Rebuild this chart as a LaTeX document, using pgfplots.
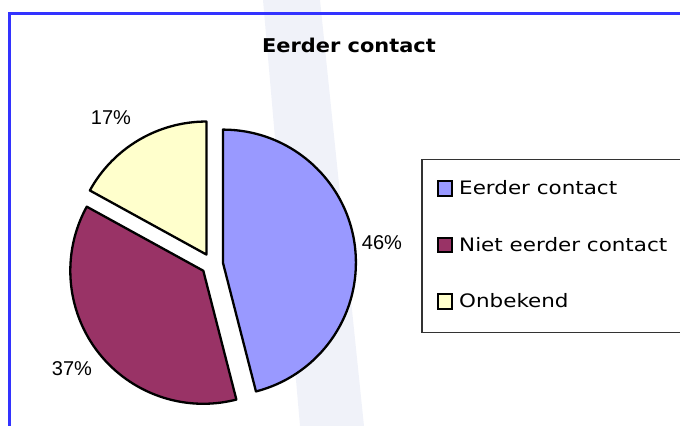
\documentclass[border=0pt]{standalone}
\usepackage{fontspec}
\setmainfont{Liberation Sans}
\newfontfamily\comic[FakeStretch=1.16]{DejaVu Sans}
\newfontfamily\comicbf[FakeStretch=1.1]{DejaVu Sans Bold}
\usepackage{pgfplots}
\usepackage{pgfplotstable}
\pgfplotsset{compat=1.18}
\definecolor{cblue}{HTML}{9999FF}
\definecolor{cmaroon}{HTML}{993366}
\definecolor{cyellow}{HTML}{FFFFCC}
\definecolor{frameblue}{HTML}{3333FF}
\definecolor{band}{HTML}{F0F2F9}

\pgfplotstableread{
name value
Eerder 46
Niet 37
Onbekend 17
}\piedata
\pgfplotstablegetelem{0}{value}\of\piedata \let\vA\pgfplotsretval
\pgfplotstablegetelem{1}{value}\of\piedata \let\vB\pgfplotsretval
\pgfplotstablegetelem{2}{value}\of\piedata \let\vC\pgfplotsretval
\pgfmathsetmacro\aA{90}
\pgfmathsetmacro\aB{\aA-3.6*\vA}
\pgfmathsetmacro\aC{\aB-3.6*\vB}
\pgfmathsetmacro\aD{\aC-3.6*\vC}
\pgfmathsetmacro\bA{(\aA+\aB)/2}
\pgfmathsetmacro\bB{(\aB+\aC)/2}
\pgfmathsetmacro\bC{(\aC+\aD)/2}

\begin{document}
\begin{tikzpicture}
\begin{axis}[width=680bp, height=426bp, scale only axis,
  xmin=0, xmax=680, ymin=0, ymax=426, y dir=reverse,
  axis lines=none, clip=false]
% faint background band
\fill[band] (axis cs:263,0) -- (axis cs:320,0) -- (axis cs:364,426) -- (axis cs:300,426) -- cycle;
% frame
\draw[frameblue, line width=2.4bp] (axis cs:9.5,432) -- (axis cs:9.5,13.5) -- (axis cs:692,13.5);
% title
\node[font={\comicbf\fontsize{19bp}{22bp}\selectfont}] at (axis cs:349,45) {Eerder contact};
% slices
\def\R{133bp}
\filldraw[fill=cblue, draw=black, line width=2.3bp, line join=round]
  ([shift={(\bA:11bp)}]axis cs:212,264) -- ++(\aA:\R) arc[start angle=\aA, end angle=\aB, radius=\R] -- cycle;
\filldraw[fill=cmaroon, draw=black, line width=2.3bp, line join=round]
  ([shift={(\bB:11bp)}]axis cs:212,264) -- ++(\aB:\R) arc[start angle=\aB, end angle=\aC, radius=\R] -- cycle;
\filldraw[fill=cyellow, draw=black, line width=2.3bp, line join=round]
  ([shift={(\bC:11bp)}]axis cs:212,264) -- ++(\aC:\R) arc[start angle=\aC, end angle=\aD, radius=\R] -- cycle;
% percentage labels
\node[font=\fontsize{20bp}{24bp}\selectfont] at (axis cs:382,243) {\vA\%};
\node[font=\fontsize{20bp}{24bp}\selectfont] at (axis cs:72,369) {\vB\%};
\node[font=\fontsize{20bp}{24bp}\selectfont] at (axis cs:111,118) {\vC\%};
% legend
\draw[draw=black!80, line width=1.3bp] (axis cs:422,159.5) rectangle (axis cs:692,332.5);
\filldraw[fill=cblue, draw=black, line width=2bp] (axis cs:437.5,181) rectangle (axis cs:452,195.5);
\filldraw[fill=cmaroon, draw=black, line width=2bp] (axis cs:437.5,237.5) rectangle (axis cs:452,252);
\filldraw[fill=cyellow, draw=black, line width=2bp] (axis cs:437.5,294) rectangle (axis cs:452,308.5);
\node[anchor=west, inner sep=0pt, font={\comic\fontsize{18.5bp}{22bp}\selectfont}] at (axis cs:459,188) {Eerder contact};
\node[anchor=west, inner sep=0pt, font={\comic\fontsize{18.5bp}{22bp}\selectfont}] at (axis cs:459,245) {Niet eerder contact};
\node[anchor=west, inner sep=0pt, font={\comic\fontsize{18.5bp}{22bp}\selectfont}] at (axis cs:459,301) {Onbekend};
\end{axis}
\pgfresetboundingbox
\useasboundingbox (0,0) rectangle (680bp,426bp);
\end{tikzpicture}
\end{document}
